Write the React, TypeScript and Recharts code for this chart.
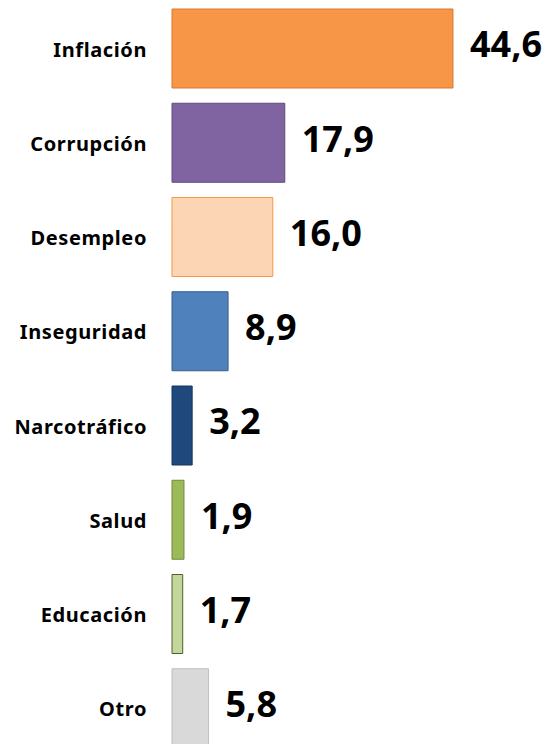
import { Bar, BarChart, Cell, LabelList, XAxis, YAxis } from 'recharts';

const CATEGORIES = [
    'Inflación',
    'Corrupción',
    'Desempleo',
    'Inseguridad',
    'Narcotráfico',
    'Salud',
    'Educación',
    'Otro',
];
const VALUES = [44.6, 17.9, 16.0, 8.9, 3.2, 1.9, 1.7, 5.8];
const FILLS = ['#F79646', '#8064A2', '#FCD5B5', '#4F81BD', '#1F497D', '#9BBB59', '#C3D69B', '#D9D9D9'];
const STROKES = ['#D9782F', '#5F497A', '#F79646', '#385D8A', '#17375E', '#71893F', '#4F6228', '#BFBFBF'];

const data = CATEGORIES.map((name, index) => ({
    name,
    value: VALUES[index],
}));

function formatValue(value: unknown) {
    return Number(value).toFixed(1).replace('.', ',');
}

function CategoryTick(props: any) {
    const { x, y, payload } = props;

    return (
        <text
            x={x}
            y={y}
            dx={-17}
            dy={8.5}
            textAnchor="end"
            fill="#000"
            fontSize={20}
            fontWeight={700}
            fontFamily="'Noto Sans', sans-serif"
            letterSpacing={0.6}
        >
            {payload.value}
        </text>
    );
}

export default function App() {
    return (
        <div
            style={{
                position: 'fixed',
                top: 0,
                left: 0,
                width: 547,
                height: 744,
                overflow: 'hidden',
                background: '#fff',
            }}
        >
            <BarChart
                width={547}
                height={760}
                data={data}
                layout="vertical"
                margin={{ top: 1, right: 60, left: 0, bottom: 5 }}
            >
                <XAxis type="number" domain={[0, 50]} hide />
                <YAxis
                    type="category"
                    dataKey="name"
                    width={172}
                    axisLine={false}
                    tickLine={false}
                    interval={0}
                    tick={<CategoryTick />}
                />
                <Bar dataKey="value" barSize={79} isAnimationActive={false}>
                    {data.map((entry, index) => (
                        <Cell
                            key={entry.name}
                            fill={FILLS[index]}
                            stroke={STROKES[index]}
                            strokeWidth={1}
                        />
                    ))}
                    <LabelList
                        dataKey="value"
                        position="right"
                        offset={17}
                        formatter={formatValue}
                        fill="#000"
                        fontSize={36}
                        fontWeight={700}
                        fontFamily="'Noto Sans', sans-serif"
                        dy={-4}
                    />
                </Bar>
            </BarChart>
        </div>
    );
}
